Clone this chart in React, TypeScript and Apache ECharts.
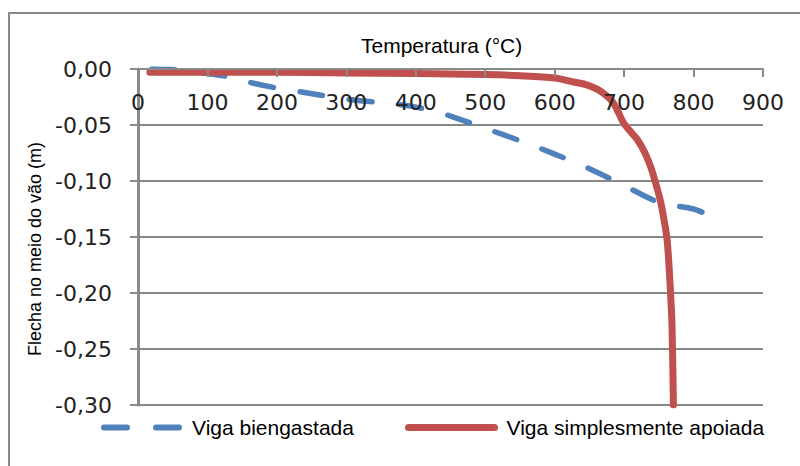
import React, { useEffect, useRef } from "react";
import * as echarts from "echarts";

const xTicksMin = 0;
const xTicksMax = 900;
const xTickStep = 100;
const yMin = -0.3;
const yMax = 0;
const yStep = 0.05;

const seriesNames = ["Viga biengastada", "Viga simplesmente apoiada"];

const blueTemp = [20, 60, 100, 130, 165, 200, 240, 300, 350, 400, 450, 500, 550, 600, 650, 700, 750, 800, 820];
const blueDefl = [0, -0.001, -0.004, -0.007, -0.0125, -0.017, -0.021, -0.027, -0.03, -0.034, -0.042, -0.053, -0.064, -0.076, -0.089, -0.104, -0.119, -0.125, -0.13];

const redTemp = [17, 100, 200, 300, 400, 500, 550, 600, 627, 645, 661, 675, 684, 692, 699, 708, 719, 730, 738, 745, 752, 757, 762, 766, 769, 771];
const redDefl = [-0.003, -0.003, -0.003, -0.0035, -0.004, -0.005, -0.006, -0.008, -0.0116, -0.014, -0.018, -0.024, -0.03, -0.039, -0.048, -0.055, -0.063, -0.075, -0.087, -0.101, -0.117, -0.133, -0.153, -0.19, -0.23, -0.3];

const BLUE = "#4F81BD";
const RED = "#C0504D";
const GRAY = "#898989";

export default function App() {
  const ref = useRef<HTMLDivElement>(null);
  useEffect(() => {
    document.body.style.margin = "0";
    const chart = echarts.init(ref.current!, null, { renderer: "svg" });
    const fmt = (v: number) => {
      const r = Math.round(v * 100) / 100;
      if (Math.abs(r) < 1e-9) return "0,00";
      return r.toFixed(2).replace(".", ",");
    };
    const hidden = { opacity: 0, color: "rgba(0,0,0,0)", borderWidth: 0 };
    chart.setOption({
      animation: false,
      backgroundColor: "#ffffff",
      title: {
        text: "Temperatura (°C)",
        left: 361,
        top: 35,
        padding: 0,
        textStyle: { fontSize: 21, fontWeight: "normal", fontFamily: "Liberation Sans", color: "#000" },
      },
      grid: { left: 138, top: 69, right: 37, bottom: 61, containLabel: false },
      xAxis: {
        type: "value",
        position: "top",
        min: xTicksMin,
        max: xTicksMax,
        interval: xTickStep,
        z: 10,
        axisLine: { show: true, onZero: false, lineStyle: { color: GRAY, width: 2 } },
        axisTick: { show: true, inside: true, length: 8, lineStyle: { color: GRAY, width: 2 } },
        axisLabel: {
          inside: true,
          margin: 22,
          color: "#222",
          fontSize: 22,
          fontFamily: "DejaVu Sans",
        },
        splitLine: { show: false },
      },
      yAxis: {
        type: "value",
        min: yMin,
        max: yMax,
        interval: yStep,
        axisLine: { show: true, onZero: false, lineStyle: { color: GRAY, width: 3 } },
        axisTick: { show: true, length: 8, lineStyle: { color: GRAY, width: 2 } },
        axisLabel: {
          margin: 26,
          color: "#222",
          fontSize: 22,
          fontFamily: "DejaVu Sans",
          formatter: fmt,
        },
        splitLine: { show: true, lineStyle: { color: GRAY, width: 2 } },
      },
      legend: [
        {
          left: 101,
          top: 417,
          itemWidth: 75,
          itemHeight: 14,
          padding: 0,
          data: [
            {
              name: seriesNames[0],
              lineStyle: { type: [23, 29], width: 6, cap: "round", color: BLUE },
              itemStyle: hidden,
            },
          ],
          textStyle: { fontSize: 21, fontFamily: "Liberation Sans", color: "#000", padding: [0, 0, 0, 8] },
        },
        {
          left: 405,
          top: 417,
          itemWidth: 86,
          itemHeight: 14,
          padding: 0,
          data: [
            {
              name: seriesNames[1],
              lineStyle: { type: "solid", width: 7, cap: "round", color: RED },
              itemStyle: hidden,
            },
          ],
          textStyle: { fontSize: 21, fontFamily: "Liberation Sans", color: "#000", padding: [0, 0, 0, 7] },
        },
      ],
      graphic: [
        {
          type: "rect",
          shape: { x: 9, y: 13, width: 900, height: 700 },
          style: { fill: "none", stroke: GRAY, lineWidth: 2 },
          silent: true,
        },
        {
          type: "text",
          x: 35,
          y: 249,
          rotation: Math.PI / 2,
          style: {
            text: "Flecha no meio do vão (m)",
            align: "center",
            verticalAlign: "middle",
            fontSize: 18,
            fontFamily: "Liberation Sans",
            fill: "#000",
          },
        },
      ],
      series: [
        {
          name: seriesNames[0],
          type: "line",
          symbol: "none",
          smooth: 0.3,
          data: blueTemp.map((t, i) => [t, blueDefl[i]]),
          lineStyle: { color: BLUE, width: 5.5, type: [23, 27], cap: "round" },
          itemStyle: { color: BLUE },
          z: 2,
        },
        {
          name: seriesNames[1],
          type: "line",
          symbol: "none",
          smooth: 0.3,
          data: redTemp.map((t, i) => [t, redDefl[i]]),
          lineStyle: { color: RED, width: 7, cap: "round" },
          itemStyle: { color: RED },
          z: 3,
        },
      ],
    });
    return () => chart.dispose();
  }, []);
  return <div ref={ref} style={{ width: 800, height: 466 }} />;
}
